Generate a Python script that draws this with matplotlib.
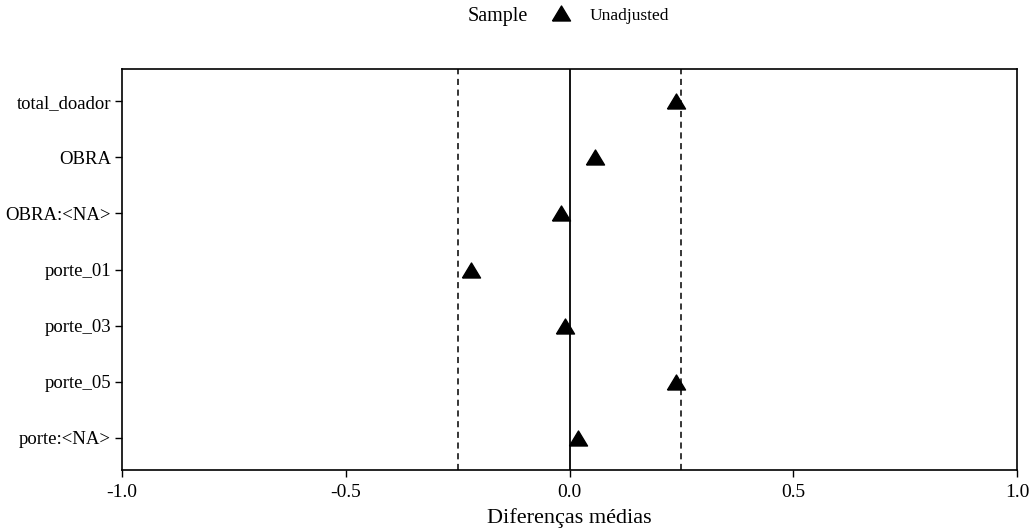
import numpy as np
import matplotlib
matplotlib.use("Agg")
import matplotlib.pyplot as plt

variables = ['total_doador', 'OBRA', 'OBRA:<NA>', 'porte_01', 'porte_03', 'porte_05', 'porte:<NA>']
diffs = [0.239, 0.056, -0.020, -0.221, -0.011, 0.239, 0.020]
threshold = 0.25

plt.rcParams['font.family'] = 'Liberation Serif'

# flattened triangle like the reference
tri = [(-1, -0.83), (1, -0.83), (0, 0.83), (-1, -0.83)]

fig = plt.figure(figsize=(10.32, 5.28), dpi=100)
ax = fig.add_axes([122/1032, 58/528, 895/1032, 401/528])

ypos = np.arange(len(variables), 0, -1)
ax.axvline(0, color='black', lw=1.3)
ax.axvline(-threshold, color='black', lw=1.1, ls=(0, (4, 3)))
ax.axvline(threshold, color='black', lw=1.1, ls=(0, (4, 3)))
ax.plot(diffs, ypos, marker=tri, color='black', markersize=13, ls='none')

ax.set_xlim(-1, 1)
ax.set_ylim(0.42, 7.58)
ax.set_xticks([-1, -0.5, 0, 0.5, 1])
ax.set_xticklabels(['-1.0', '-0.5', '0.0', '0.5', '1.0'], fontsize=14)
ax.set_yticks(ypos)
ax.set_yticklabels(variables, fontsize=13.5)
ax.tick_params(axis='x', length=5, width=1, color='black', pad=5)
ax.tick_params(axis='y', length=5, width=1, color='black', pad=3)
for s in ax.spines.values():
    s.set_linewidth(1.2)
ax.set_xlabel('Diferenças médias', fontsize=16, labelpad=5)

# legend on top
fig.text(528/1032, 1 - 16/528, 'Sample', fontsize=14.5, ha='right', va='center')
fig.lines.append(plt.Line2D([561/1032], [1 - 13/528], marker=tri, color='black',
                            markersize=13, ls='none', transform=fig.transFigure))
fig.text(590/1032, 1 - 16/528, 'Unadjusted', fontsize=12.5, ha='left', va='center')

fig.savefig('out.png', dpi=100)
